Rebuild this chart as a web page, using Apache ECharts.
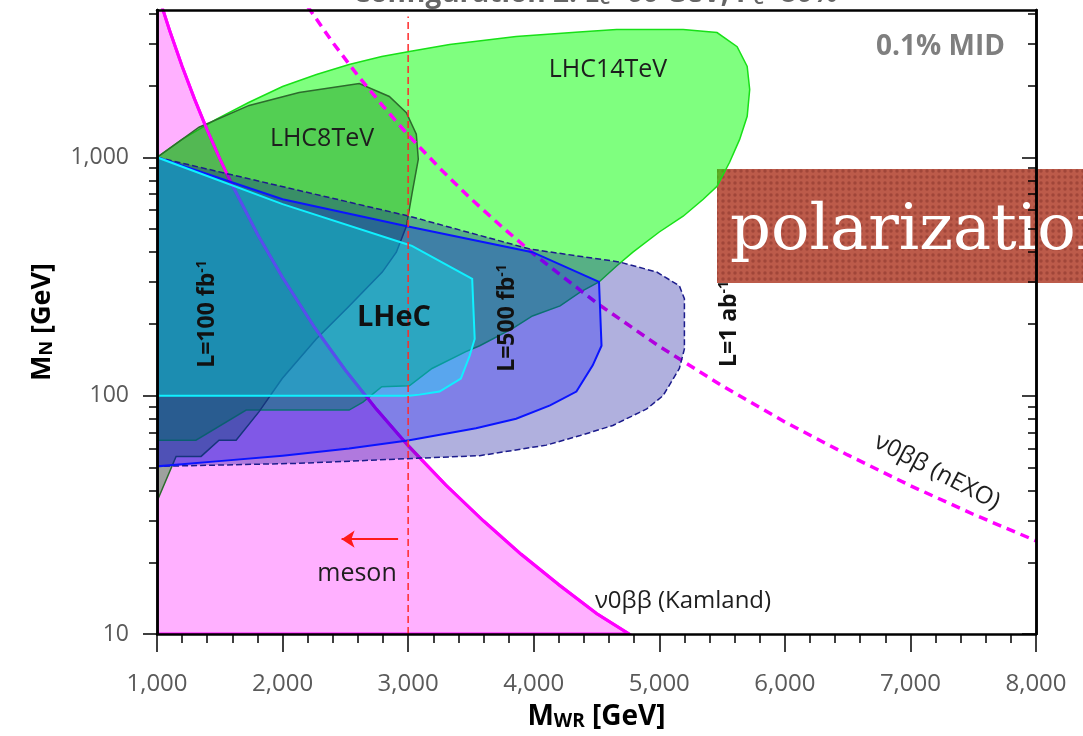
<!DOCTYPE html>
<html>
<head>
<meta charset="utf-8">
<script src="https://cdn.jsdelivr.net/npm/echarts@6/dist/echarts.min.js"></script>
<style>
  html, body { margin: 0; padding: 0; background: #fff; }
  #main { width: 1083px; height: 736px; }
</style>
</head>
<body>
<div id="main"></div>
<script>
// ---- axis ticks ----
const xTickValues = [1000, 2000, 3000, 4000, 5000, 6000, 7000, 8000];
const yMajorTicks = [10, 100, 1000];
const yMinorTicks = [20, 30, 40, 50, 60, 70, 80, 90, 200, 300, 400, 500, 600, 700, 800, 900, 2000, 3000, 4000];

// ---- 0νββ limits (M_WR [GeV], M_N [GeV]) ----
const kamlandMWR = [1015, 1030, 1100, 1200, 1300, 1400, 1500, 1600, 1800, 2000, 2250, 2500, 2750, 3000, 3300, 3600, 3900, 4200, 4500, 4760];
const kamlandMN  = [4710, 4440, 3415, 2410, 1750, 1300, 988, 763, 476, 313, 195, 128, 87.4, 61.7, 42.2, 29.8, 21.6, 16.1, 12.2, 10];
const nexoMWR = [2200, 2400, 2600, 2800, 3000, 3250, 3500, 3750, 4000, 4500, 5000, 5500, 6000, 6500, 7000, 7500, 8000];
const nexoMN  = [4290, 3030, 2200, 1640, 1240, 902, 670, 509, 393, 245, 161, 110, 77.6, 56.4, 41.9, 31.8, 24.6];

// ---- LHC sensitivity regions ----
const lhc14MWR = [1000, 1200, 1470, 1730, 2000, 2270, 2530, 2790, 3010, 3330, 3860, 4390, 4660, 5190, 5460, 5620, 5700, 5720, 5700, 5640, 5560, 5460, 5350, 5190, 5000, 4790, 4660, 4520, 4370, 4210, 3990, 3830, 3570, 3460, 3190, 3010, 2790, 2640, 2530, 1710, 1310, 1000];
const lhc14MN  = [1000, 1189, 1443, 1698, 1982, 2224, 2449, 2648, 2780, 2973, 3210, 3367, 3434, 3434, 3337, 2911, 2404, 1927, 1486, 1189, 953, 756, 667, 566, 486, 400, 350, 300, 272, 238, 216, 191, 162, 153, 130, 110, 109, 94, 87, 87, 65, 65];
const lhc8MWR = [1000, 1335, 1734, 2132, 2611, 2850, 2986, 3065, 3081, 3033, 2986, 2906, 2794, 2531, 2268, 1997, 1813, 1630, 1494, 1351, 1152, 1000];
const lhc8MN  = [1000, 1337, 1651, 1871, 2040, 1800, 1540, 1250, 982, 714, 514, 400, 330, 238, 173, 118, 85.7, 65, 65, 55.6, 55.6, 36];

// ---- LHeC sensitivity regions ----
const lhec100MWR = [1000, 2000, 2990, 3030, 3510, 3530, 3490, 3420, 3250, 3090, 3010, 1000];
const lhec100MN  = [1000, 636, 432, 425, 309, 173, 147, 118, 104, 101, 100, 100];
const lhec500MWR = [1000, 2000, 2990, 3990, 4520, 4540, 4470, 4340, 4130, 3860, 3540, 3010, 2530, 2000, 1470, 1000];
const lhec500MN  = [1000, 667, 514, 400, 300, 162, 134, 104, 91, 80, 73, 65, 60, 56, 53, 50.5];
const lhec1abMWR = [1000, 3010, 3970, 4680, 4980, 5160, 5200, 5200, 5160, 5030, 4900, 4630, 4370, 4100, 3570, 3030, 2130, 1000];
const lhec1abMN  = [1000, 566, 412, 364, 330, 289, 255, 157, 130, 100, 88, 75, 68, 62, 56, 54.5, 52, 50.5];

// ---- meson bound ----
const mesonLineMWR = [3000, 3000];
const mesonLineMN  = [10, 3900];
const mesonArrowMWR = [2920, 2470];
const mesonArrowMN  = [25, 25];

const zip = (xs, ys) => xs.map((x, i) => [x, ys[i]]);
const fmt = v => Math.round(v).toLocaleString('en-US');
const FONT = '"Open Sans", "DejaVu Sans", sans-serif';

// closed region drawn through the cartesian scales
function region(name, pts, style, z) {
  return {
    type: 'custom', name: name, clip: true, silent: true, z: z,
    data: [pts[0]],
    renderItem: function (params, api) {
      return {
        type: 'polygon',
        shape: { points: pts.map(p => api.coord(p)) },
        style: style
      };
    }
  };
}

const kamlandPts = zip(kamlandMWR, kamlandMN);
const kamlandFill = [[1000, 10], [1000, kamlandMN[0]]].concat(kamlandPts);

function yAxisDef(pos, ticks, len, withLabels) {
  const ax = {
    type: 'log', logBase: 10, min: 10, max: 4150, position: pos, z: 20,
    axisLine: { show: true, lineStyle: { color: '#000', width: 2.5 } },
    axisTick: { show: true, inside: pos === 'right', length: len, customValues: ticks,
                lineStyle: { color: '#000', width: 1.5 } },
    axisLabel: { show: false },
    splitLine: { show: false },
    minorTick: { show: false }
  };
  if (withLabels) {
    ax.axisLabel = { show: true, customValues: yMajorTicks, formatter: fmt, margin: 28,
                     color: '#5a5a5a', fontSize: 23, fontFamily: FONT };
    ax.name = 'M{s|N} [GeV]';
    ax.nameLocation = 'middle';
    ax.nameRotate = 90;
    ax.nameGap = 101;
    ax.nameTextStyle = { color: '#000', fontSize: 27, fontWeight: 'bold', fontFamily: FONT,
      rich: { s: { fontSize: 18, fontWeight: 'bold', fontFamily: FONT, color: '#000', verticalAlign: 'bottom', padding: [7, 0, 0, 0] } } };
  }
  return ax;
}

// dotted fill for the banner
const dots = document.createElement('canvas');
dots.width = 6; dots.height = 6;
const dc = dots.getContext('2d');
dc.fillStyle = '#b74f3d'; dc.fillRect(0, 0, 6, 6);
dc.fillStyle = '#99382b'; dc.beginPath(); dc.arc(3, 3, 1.7, 0, Math.PI * 2); dc.fill();

function txt(text, x, y, size, opts) {
  opts = opts || {};
  return {
    type: 'text', x: x, y: y, rotation: opts.rotation || 0, z: 100, silent: true,
    style: {
      text: text, fill: opts.color || '#1e1e1e',
      fontSize: size, fontWeight: opts.bold ? 'bold' : 'normal', fontFamily: opts.family || FONT,
      align: opts.align || 'center', verticalAlign: opts.vAlign || 'middle',
      rich: opts.rich
    }
  };
}
const supRich = { p: { fontSize: 14, fontWeight: 'bold', fontFamily: FONT, fill: '#111', verticalAlign: 'top', padding: [0, 0, 10, 0] } };

const chart = echarts.init(document.getElementById('main'), null, { renderer: 'canvas' });
chart.setOption({
  animation: false,
  backgroundColor: '#fff',
  grid: { left: 157, right: 47, top: 10, bottom: 100, containLabel: false },
  xAxis: [
    {
      type: 'value', min: xTickValues[0], max: xTickValues[xTickValues.length - 1], interval: 1000,
      position: 'bottom', z: 20,
      axisLine: { lineStyle: { color: '#000', width: 2.5 } },
      axisTick: { length: 18, lineStyle: { color: '#000', width: 1.5 } },
      minorTick: { show: true, splitNumber: 5, length: 9, lineStyle: { color: '#000', width: 1.5 } },
      axisLabel: { formatter: fmt, margin: 38, color: '#5a5a5a', fontSize: 24, fontFamily: FONT },
      splitLine: { show: false },
      name: 'M{s|WR} [GeV]', nameLocation: 'middle', nameGap: 69,
      nameTextStyle: { color: '#000', fontSize: 28, fontWeight: 'bold', fontFamily: FONT,
        rich: { s: { fontSize: 19, fontWeight: 'bold', fontFamily: FONT, color: '#000', verticalAlign: 'bottom', padding: [7, 0, 0, 0] } } }
    },
    {
      type: 'value', min: 1000, max: 8000, position: 'top', z: 20,
      axisLine: { lineStyle: { color: '#000', width: 2.5 } },
      axisTick: { show: false }, axisLabel: { show: false }, splitLine: { show: false }
    }
  ],
  yAxis: [
    yAxisDef('left', yMajorTicks, 14, true),
    yAxisDef('left', yMinorTicks, 8, false),
    yAxisDef('right', yMajorTicks, 14, false),
    yAxisDef('right', yMinorTicks, 8, false)
  ],
  series: [
    region('0νββ (Kamland) excluded', kamlandFill, { fill: '#ffb0ff', stroke: '#ff00ff', lineWidth: 3 }, 1),
    region('LHC14TeV', zip(lhc14MWR, lhc14MN), { fill: 'rgba(0,255,0,0.5)', stroke: '#18e018', lineWidth: 1.5 }, 2),
    region('LHC8TeV', zip(lhc8MWR, lhc8MN), { fill: 'rgba(25,140,25,0.42)', stroke: '#2d6b2d', lineWidth: 1.5 }, 3),
    {
      type: 'line', name: '0νββ (Kamland)', data: kamlandPts, showSymbol: false, silent: true, z: 4,
      lineStyle: { color: '#ff00ff', width: 3 }
    },
    {
      type: 'line', name: '0νββ (nEXO)', data: zip(nexoMWR, nexoMN), showSymbol: false, silent: true, z: 5,
      lineStyle: { color: '#ff00ff', width: 3.5, type: [9, 6] }
    },
    region('L=1 ab-1', zip(lhec1abMWR, lhec1abMN), { fill: 'rgba(0,0,150,0.31)', stroke: '#1c1c8c', lineWidth: 1.5, lineDash: [6, 3] }, 6),
    region('L=500 fb-1', zip(lhec500MWR, lhec500MN), { fill: 'rgba(0,0,255,0.27)', stroke: '#0a14ff', lineWidth: 2 }, 7),
    region('L=100 fb-1', zip(lhec100MWR, lhec100MN), { fill: 'rgba(0,255,255,0.3)', stroke: '#10f0ff', lineWidth: 2 }, 8),
    {
      type: 'line', name: 'meson', data: zip(mesonLineMWR, mesonLineMN), showSymbol: false, silent: true, z: 9,
      lineStyle: { color: '#ff2a2a', width: 1.5, type: [7, 4] }
    },
    {
      type: 'lines', coordinateSystem: 'cartesian2d', silent: true, polyline: false, z: 9,
      data: [{ coords: zip(mesonArrowMWR, mesonArrowMN) }],
      symbol: ['none', 'arrow'], symbolSize: 13,
      lineStyle: { color: '#ff1a1a', width: 2, opacity: 1 }
    }
  ],
  graphic: [
    txt('Configuration 2: E{s|e}=60 GeV, P{s|e}=80%', 595, 8, 28,
        { bold: true, color: '#666', vAlign: 'bottom',
          rich: { s: { fontSize: 18, fontWeight: 'bold', fontFamily: FONT, fill: '#666', verticalAlign: 'bottom' } } }),
    txt('0.1% MID', 1005, 47, 28, { bold: true, color: '#7f7f7f', align: 'right' }),
    txt('LHC14TeV', 608, 70, 25),
    txt('LHC8TeV', 322, 139, 25),
    txt('LHeC', 394, 318, 29, { bold: true, color: '#111' }),
    txt('L=100 fb{p|-1}', 207, 314, 23, { bold: true, color: '#111', rotation: Math.PI / 2, rich: supRich }),
    txt('L=500 fb{p|-1}', 507, 318, 23, { bold: true, color: '#111', rotation: Math.PI / 2, rich: supRich }),
    txt('L=1 ab{p|-1}', 729, 324, 23, { bold: true, color: '#111', rotation: Math.PI / 2, rich: supRich }),
    txt('meson', 357, 574, 25),
    txt('ν0ββ (Kamland)', 683, 601, 24),
    txt('ν0ββ (nEXO)', 937, 472, 24, { rotation: -0.48 }),
    {
      type: 'group', z: 200, silent: true,
      children: [
        { type: 'rect', shape: { x: 717, y: 169, width: 380, height: 114 },
          style: { fill: { image: dots, repeat: 'repeat' }, opacity: 0.93 } },
        { type: 'text', x: 730, y: 232,
          style: { text: 'polarization', fill: '#fff', fontSize: 64, fontFamily: '"DejaVu Serif", serif',
                   align: 'left', verticalAlign: 'middle' } }
      ]
    }
  ]
});
</script>
</body>
</html>
